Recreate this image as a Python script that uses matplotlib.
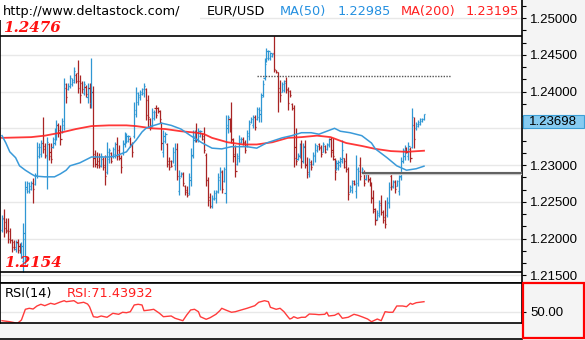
import matplotlib
matplotlib.use("Agg")
import matplotlib.pyplot as plt
from matplotlib.collections import LineCollection
from matplotlib.patches import Rectangle
from matplotlib.lines import Line2D
from matplotlib.ticker import MultipleLocator, FixedLocator, FuncFormatter, FormatStrFormatter

# EUR/USD 4h bars (open, high, low, close)
opens = [
    1.2212, 1.2228, 1.2222, 1.2212, 1.2210, 1.2198, 1.2196, 1.2186, 1.2196, 1.2190,
    1.2180, 1.2170, 1.2200, 1.2268, 1.2265, 1.2268, 1.2276, 1.2274, 1.2286, 1.2312,
    1.2315, 1.2330, 1.2326, 1.2312, 1.2328, 1.2318, 1.2325, 1.2330, 1.2340, 1.2355,
    1.2348, 1.2346, 1.2355, 1.2405, 1.2403, 1.2407, 1.2410, 1.2413, 1.2423, 1.2425,
    1.2415, 1.2412, 1.2398, 1.2406, 1.2392, 1.2405, 1.2385, 1.2400, 1.2315, 1.2312,
    1.2305, 1.2300, 1.2308, 1.2300, 1.2290, 1.2308, 1.2316, 1.2312, 1.2315, 1.2328,
    1.2320, 1.2310, 1.2316, 1.2328, 1.2333, 1.2333, 1.2336, 1.2328, 1.2340, 1.2370,
    1.2386, 1.2392, 1.2397, 1.2398, 1.2403, 1.2388, 1.2362, 1.2355, 1.2364, 1.2378,
    1.2378, 1.2373, 1.2357, 1.2318, 1.2333, 1.2328, 1.2306, 1.2305, 1.2305, 1.2300,
    1.2322, 1.2265, 1.2285, 1.2288, 1.2271, 1.2266, 1.2262, 1.2280, 1.2314, 1.2334,
    1.2345, 1.2334, 1.2340, 1.2343, 1.2340, 1.2314, 1.2280, 1.2256, 1.2244, 1.2254,
    1.2255, 1.2265, 1.2280, 1.2291, 1.2279, 1.2262, 1.2350, 1.2362, 1.2355, 1.2334,
    1.2315, 1.2302, 1.2310, 1.2331, 1.2336, 1.2331, 1.2327, 1.2340, 1.2358, 1.2355,
    1.2366, 1.2362, 1.2365, 1.2370, 1.2395, 1.2418, 1.2442, 1.2446, 1.2445, 1.2448,
    1.2452, 1.2429, 1.2426, 1.2405, 1.2400, 1.2402, 1.2415, 1.2402, 1.2401, 1.2383,
    1.2378, 1.2325, 1.2308, 1.2312, 1.2328, 1.2305, 1.2326, 1.2302, 1.2288, 1.2304,
    1.2301, 1.2312, 1.2320, 1.2328, 1.2324, 1.2318, 1.2326, 1.2322, 1.2327, 1.2336,
    1.2320, 1.2308, 1.2294, 1.2296, 1.2300, 1.2306, 1.2309, 1.2305, 1.2294, 1.2264,
    1.2266, 1.2278, 1.2265, 1.2275, 1.2300, 1.2290, 1.2290, 1.2281, 1.2288, 1.2281,
    1.2275, 1.2256, 1.2238, 1.2227, 1.2232, 1.2248, 1.2236, 1.2230, 1.2232, 1.2248,
    1.2285, 1.2270, 1.2277, 1.2272, 1.2265, 1.2285, 1.2306, 1.2312, 1.2323, 1.2312,
    1.2322, 1.2325, 1.2355, 1.2350, 1.2353, 1.2356, 1.2360, 1.2362,
]
highs = [
    1.2232, 1.2240, 1.2228, 1.2228, 1.2214, 1.2200, 1.2198, 1.2198, 1.2200, 1.2194,
    1.2195, 1.2221, 1.2279, 1.2279, 1.2277, 1.2279, 1.2282, 1.2289, 1.2331, 1.2330,
    1.2334, 1.2366, 1.2330, 1.2338, 1.2330, 1.2330, 1.2338, 1.2350, 1.2361, 1.2357,
    1.2354, 1.2364, 1.2418, 1.2412, 1.2411, 1.2422, 1.2419, 1.2433, 1.2425, 1.2443,
    1.2422, 1.2415, 1.2415, 1.2409, 1.2411, 1.2412, 1.2445, 1.2407, 1.2321, 1.2318,
    1.2317, 1.2317, 1.2311, 1.2314, 1.2331, 1.2323, 1.2318, 1.2325, 1.2331, 1.2338,
    1.2327, 1.2314, 1.2334, 1.2345, 1.2344, 1.2341, 1.2338, 1.2331, 1.2386, 1.2406,
    1.2399, 1.2402, 1.2405, 1.2412, 1.2405, 1.2395, 1.2364, 1.2378, 1.2375, 1.2382,
    1.2379, 1.2375, 1.2359, 1.2348, 1.2345, 1.2330, 1.2311, 1.2307, 1.2325, 1.2330,
    1.2330, 1.2293, 1.2291, 1.2291, 1.2273, 1.2271, 1.2289, 1.2323, 1.2348, 1.2348,
    1.2357, 1.2350, 1.2348, 1.2344, 1.2352, 1.2316, 1.2284, 1.2262, 1.2259, 1.2266,
    1.2266, 1.2289, 1.2297, 1.2293, 1.2297, 1.2368, 1.2368, 1.2364, 1.2386, 1.2337,
    1.2327, 1.2316, 1.2341, 1.2338, 1.2338, 1.2334, 1.2348, 1.2361, 1.2365, 1.2368,
    1.2368, 1.2379, 1.2379, 1.2398, 1.2416, 1.2446, 1.2459, 1.2456, 1.2454, 1.2452,
    1.2476, 1.2429, 1.2427, 1.2416, 1.2413, 1.2416, 1.2420, 1.2406, 1.2402, 1.2384,
    1.2382, 1.2350, 1.2316, 1.2330, 1.2334, 1.2330, 1.2334, 1.2311, 1.2310, 1.2307,
    1.2318, 1.2330, 1.2327, 1.2330, 1.2327, 1.2331, 1.2327, 1.2330, 1.2337, 1.2338,
    1.2337, 1.2310, 1.2307, 1.2307, 1.2311, 1.2334, 1.2310, 1.2316, 1.2297, 1.2273,
    1.2280, 1.2280, 1.2314, 1.2297, 1.2311, 1.2297, 1.2293, 1.2289, 1.2289, 1.2284,
    1.2277, 1.2266, 1.2242, 1.2239, 1.2252, 1.2259, 1.2239, 1.2252, 1.2256, 1.2277,
    1.2289, 1.2280, 1.2280, 1.2280, 1.2287, 1.2311, 1.2323, 1.2327, 1.2325, 1.2331,
    1.2325, 1.2378, 1.2365, 1.2359, 1.2361, 1.2364, 1.2364, 1.2370,
]
lows = [
    1.2209, 1.2202, 1.2207, 1.2194, 1.2194, 1.2182, 1.2184, 1.2182, 1.2180, 1.2180,
    1.2174, 1.2154, 1.2166, 1.2262, 1.2262, 1.2266, 1.2249, 1.2273, 1.2283, 1.2309,
    1.2311, 1.2317, 1.2309, 1.2268, 1.2307, 1.2303, 1.2323, 1.2327, 1.2334, 1.2338,
    1.2327, 1.2344, 1.2348, 1.2385, 1.2402, 1.2405, 1.2408, 1.2411, 1.2411, 1.2398,
    1.2384, 1.2398, 1.2395, 1.2392, 1.2384, 1.2377, 1.2378, 1.2297, 1.2297, 1.2296,
    1.2296, 1.2297, 1.2293, 1.2273, 1.2288, 1.2303, 1.2303, 1.2310, 1.2310, 1.2307,
    1.2307, 1.2289, 1.2314, 1.2325, 1.2330, 1.2331, 1.2325, 1.2311, 1.2337, 1.2365,
    1.2382, 1.2389, 1.2395, 1.2393, 1.2361, 1.2352, 1.2348, 1.2352, 1.2361, 1.2364,
    1.2371, 1.2357, 1.2321, 1.2311, 1.2330, 1.2297, 1.2293, 1.2297, 1.2303, 1.2293,
    1.2280, 1.2259, 1.2284, 1.2271, 1.2259, 1.2256, 1.2259, 1.2271, 1.2310, 1.2331,
    1.2331, 1.2331, 1.2338, 1.2334, 1.2316, 1.2271, 1.2245, 1.2241, 1.2241, 1.2252,
    1.2249, 1.2262, 1.2266, 1.2262, 1.2277, 1.2249, 1.2344, 1.2345, 1.2330, 1.2304,
    1.2284, 1.2300, 1.2304, 1.2330, 1.2327, 1.2316, 1.2325, 1.2334, 1.2357, 1.2350,
    1.2348, 1.2361, 1.2359, 1.2359, 1.2393, 1.2416, 1.2440, 1.2443, 1.2443, 1.2447,
    1.2427, 1.2425, 1.2372, 1.2386, 1.2399, 1.2399, 1.2398, 1.2375, 1.2393, 1.2375,
    1.2297, 1.2300, 1.2307, 1.2310, 1.2296, 1.2303, 1.2296, 1.2282, 1.2284, 1.2293,
    1.2300, 1.2304, 1.2318, 1.2321, 1.2311, 1.2318, 1.2316, 1.2321, 1.2325, 1.2311,
    1.2307, 1.2280, 1.2293, 1.2293, 1.2297, 1.2303, 1.2296, 1.2291, 1.2252, 1.2263,
    1.2262, 1.2273, 1.2255, 1.2271, 1.2280, 1.2289, 1.2271, 1.2280, 1.2277, 1.2271,
    1.2248, 1.2235, 1.2218, 1.2225, 1.2229, 1.2232, 1.2221, 1.2214, 1.2229, 1.2242,
    1.2266, 1.2269, 1.2262, 1.2271, 1.2259, 1.2280, 1.2303, 1.2307, 1.2316, 1.2307,
    1.2304, 1.2323, 1.2323, 1.2348, 1.2352, 1.2355, 1.2359, 1.2361,
]
closes = [
    1.2226, 1.2214, 1.2210, 1.2200, 1.2198, 1.2188, 1.2188, 1.2194, 1.2184, 1.2182,
    1.2190, 1.2208, 1.2270, 1.2276, 1.2272, 1.2276, 1.2268, 1.2286, 1.2325, 1.2325,
    1.2330, 1.2322, 1.2314, 1.2332, 1.2312, 1.2308, 1.2335, 1.2345, 1.2355, 1.2343,
    1.2335, 1.2360, 1.2410, 1.2392, 1.2408, 1.2418, 1.2416, 1.2428, 1.2415, 1.2405,
    1.2395, 1.2403, 1.2410, 1.2396, 1.2405, 1.2390, 1.2400, 1.2310, 1.2302, 1.2300,
    1.2299, 1.2312, 1.2298, 1.2285, 1.2318, 1.2320, 1.2306, 1.2322, 1.2328, 1.2312,
    1.2310, 1.2298, 1.2330, 1.2340, 1.2340, 1.2339, 1.2328, 1.2318, 1.2375, 1.2398,
    1.2395, 1.2400, 1.2403, 1.2408, 1.2368, 1.2365, 1.2352, 1.2372, 1.2372, 1.2368,
    1.2373, 1.2362, 1.2330, 1.2340, 1.2342, 1.2302, 1.2297, 1.2299, 1.2318, 1.2322,
    1.2285, 1.2282, 1.2289, 1.2276, 1.2263, 1.2259, 1.2284, 1.2312, 1.2340, 1.2344,
    1.2336, 1.2346, 1.2346, 1.2336, 1.2320, 1.2280, 1.2252, 1.2245, 1.2255, 1.2262,
    1.2263, 1.2284, 1.2292, 1.2268, 1.2294, 1.2355, 1.2365, 1.2350, 1.2335, 1.2312,
    1.2292, 1.2312, 1.2335, 1.2336, 1.2330, 1.2320, 1.2343, 1.2356, 1.2363, 1.2365,
    1.2352, 1.2376, 1.2375, 1.2393, 1.2410, 1.2438, 1.2455, 1.2455, 1.2452, 1.2451,
    1.2430, 1.2426, 1.2400, 1.2395, 1.2410, 1.2412, 1.2404, 1.2385, 1.2395, 1.2377,
    1.2310, 1.2305, 1.2314, 1.2326, 1.2305, 1.2325, 1.2300, 1.2290, 1.2302, 1.2297,
    1.2314, 1.2327, 1.2326, 1.2323, 1.2315, 1.2328, 1.2318, 1.2328, 1.2335, 1.2318,
    1.2312, 1.2290, 1.2303, 1.2304, 1.2308, 1.2320, 1.2298, 1.2295, 1.2260, 1.2270,
    1.2275, 1.2274, 1.2295, 1.2292, 1.2285, 1.2295, 1.2276, 1.2288, 1.2280, 1.2274,
    1.2255, 1.2240, 1.2225, 1.2235, 1.2246, 1.2236, 1.2225, 1.2220, 1.2250, 1.2270,
    1.2272, 1.2278, 1.2268, 1.2278, 1.2284, 1.2305, 1.2320, 1.2322, 1.2318, 1.2326,
    1.2310, 1.2365, 1.2335, 1.2356, 1.2359, 1.2362, 1.2363, 1.23698,
]

# moving averages (bar index, value)
ma50_idx = [0, 2, 4, 7, 9, 12, 15, 17, 22, 27, 30, 33, 35, 40, 46, 51, 55, 58, 64, 66,
            69, 72, 74, 77, 82, 87, 92, 97, 103, 108, 113, 118, 126, 131, 136, 144, 149,
            154, 159, 163, 167, 171, 174, 179, 185, 190, 192, 198, 203, 208, 213, 217]
ma50_val = [1.2340, 1.2330, 1.2318, 1.2310, 1.2299, 1.2293, 1.2288, 1.2285, 1.2284, 1.2284,
            1.2288, 1.2293, 1.2299, 1.2303, 1.2311, 1.2311, 1.2311, 1.2312, 1.2318, 1.2325,
            1.2334, 1.2345, 1.2350, 1.2353, 1.2357, 1.2354, 1.2349, 1.2340, 1.2330, 1.2323,
            1.2322, 1.2325, 1.2325, 1.2323, 1.2330, 1.2337, 1.2340, 1.2344, 1.2344, 1.2342,
            1.2346, 1.2350, 1.2346, 1.2344, 1.2340, 1.2330, 1.2322, 1.2310, 1.2299, 1.2293,
            1.2295, 1.22985]
ma200_idx = [0, 15, 22, 30, 38, 46, 55, 64, 69, 77, 84, 92, 100, 104, 108, 116, 124, 131,
             139, 147, 154, 162, 169, 177, 185, 192, 200, 208, 217]
ma200_val = [1.2337, 1.2338, 1.2340, 1.2344, 1.2349, 1.2353, 1.2354, 1.2354, 1.2353, 1.2350,
             1.2349, 1.2346, 1.2344, 1.2342, 1.2337, 1.2331, 1.2328, 1.2328, 1.2331, 1.2337,
             1.2338, 1.2340, 1.2338, 1.2330, 1.2326, 1.2322, 1.2319, 1.2318, 1.23195]

# RSI(14)
rsi_idx = [0, 4, 8, 10, 12, 14, 16, 18, 20, 22, 25, 27, 30, 32, 33, 37, 39, 42, 44, 45,
           47, 49, 51, 54, 57, 60, 62, 64, 66, 68, 70, 72, 73, 76, 78, 81, 83, 87, 89, 93,
           95, 97, 99, 101, 102, 105, 107, 110, 112, 113, 115, 118, 120, 123, 126, 130, 132,
           135, 137, 138, 141, 143, 145, 147, 148, 149, 150, 152, 154, 156, 158, 161, 163,
           166, 167, 168, 171, 173, 175, 178, 181, 183, 185, 188, 190, 193, 195, 197, 199,
           201, 203, 206, 208, 210, 211, 213, 217]
rsi_val = [31.9, 29.8, 26.5, 33.4, 55.6, 57.7, 56.2, 62.5, 66.0, 63.1, 68.1, 66.0, 70.8,
           73.5, 71.4, 73.5, 68.1, 70.2, 66.6, 61.0, 40.2, 39.0, 41.7, 39.0, 47.3, 45.2,
           49.4, 48.5, 50.6, 64.6, 66.0, 64.6, 52.7, 54.2, 55.6, 47.3, 40.2, 41.7, 36.9,
           31.9, 43.8, 54.2, 55.6, 50.6, 40.2, 34.8, 38.1, 45.2, 52.7, 57.7, 54.2, 49.4,
           50.6, 54.2, 57.7, 63.1, 70.2, 73.5, 71.4, 59.8, 55.6, 57.7, 50.6, 40.2, 35.4,
           36.9, 40.2, 36.9, 39.0, 39.0, 45.8, 45.2, 44.4, 45.2, 49.4, 41.7, 43.1, 47.3,
           36.9, 39.0, 45.2, 43.1, 40.2, 35.4, 29.8, 35.4, 31.9, 50.6, 49.4, 49.4, 62.5,
           62.5, 61.0, 68.1, 66.0, 69.3, 71.43932]

high_mark = 1.2476
low_mark = 1.2154
resist_level = 1.2421
resist_span = (131, 231)
support_level = 1.2289
support_start = 185
last_price = 1.23698
ma50_last = 1.22985
ma200_last = 1.23195
rsi_last = 71.43932

UP = '#2f97d3'
DOWN = '#a82424'
MA50_C = '#3a9ad9'
MA200_C = '#ff2222'
RSI_C = '#ff3b3b'

plt.rcParams['font.family'] = ['DejaVu Sans']

W, H = 585, 340
fig = plt.figure(figsize=(W / 100, H / 100), dpi=100, facecolor='#f4f4f4')


def fx(px):
    return px / W


def fy(py):
    return 1 - py / H


ax = fig.add_axes([0, fy(283), fx(522), 283 / H])
rax = fig.add_axes([0, fy(323), fx(522), 40 / H])
xmin, xmax = -1.03, 267.4

# OHLC bars
segs, cols = [], []
for i, (o, h, l, c) in enumerate(zip(opens, highs, lows, closes)):
    col = UP if c >= o else DOWN
    segs += [[(i, l), (i, h)], [(i - 0.6, o), (i, o)], [(i, c), (i + 0.6, c)]]
    cols += [col] * 3
ax.add_collection(LineCollection(segs, colors=cols, linewidths=0.9, zorder=3))

ax.plot(ma200_idx, ma200_val, color=MA200_C, lw=1.3, alpha=0.9, zorder=4)
ax.plot(ma50_idx, ma50_val, color=MA50_C, lw=1.1, zorder=4)

ax.axhline(high_mark, color='black', lw=1.2, zorder=5)
ax.axhline(low_mark, color='black', lw=1.2, zorder=5)
ax.hlines(resist_level, *resist_span, colors='#555555', linestyles=(0, (1, 1)), lw=1, zorder=5)
ax.hlines(support_level, support_start, xmax, colors='#c8c8c8', lw=2.4, zorder=5)
ax.hlines(support_level, support_start, xmax, colors='#444444', lw=1.1, zorder=5)

ax.set_xlim(xmin, xmax)
ax.set_ylim(1.21396, 1.25245)
ax.set_xticks([])
ax.yaxis.tick_right()
ax.yaxis.set_major_locator(MultipleLocator(0.005))
ax.yaxis.set_minor_locator(MultipleLocator(0.005 / 3))
# the 1.23500 label sits under the last-price tag, so it is left blank
ax.yaxis.set_major_formatter(FuncFormatter(
    lambda v, pos: '' if abs(v - 1.235) < 1e-6 else f'{v:.5f}'))
ax.tick_params(axis='y', which='both', direction='out', length=3, width=0.8,
               labelsize=9.5, pad=3, labelfontfamily='Liberation Sans')
ax.grid(axis='y', which='major', color='#e8e8e8', lw=1, zorder=0)
ax.spines['top'].set_visible(False)
for s in ('left', 'right', 'bottom'):
    ax.spines[s].set_color('black')
    ax.spines[s].set_linewidth(1.2)

# RSI panel
rax.plot(rsi_idx, rsi_val, color=RSI_C, lw=1)
rax.set_xlim(xmin, xmax)
rax.set_ylim(27.1, 110.3)
rax.set_xticks([])
rax.yaxis.tick_right()
rax.yaxis.set_major_locator(FixedLocator([50]))
rax.yaxis.set_major_formatter(FormatStrFormatter('%.2f'))
rax.tick_params(axis='y', direction='out', length=3, width=0.8, labelsize=9.5, pad=3,
                labelfontfamily='Liberation Sans')
rax.grid(axis='y', color='#e8e8e8', lw=1)
for s in rax.spines.values():
    s.set_color('black')
    s.set_linewidth(1.2)

fig.add_artist(Line2D([0, fx(522)], [fy(338.5)] * 2, color='black', lw=1.2))

# header texts
fig.add_artist(Rectangle((0, fy(20)), fx(200), 20 / H, facecolor='white',
                         edgecolor='none', zorder=2))
hdr = dict(fontsize=9.3, va='baseline', ha='left', zorder=3)
fig.text(fx(3), fy(15), 'http://www.deltastock.com/', color='black', **hdr)
fig.text(fx(207), fy(15), 'EUR/USD', color='black', **hdr)
fig.text(fx(280), fy(15), 'MA(50)', color='#2590e0', **hdr)
fig.text(fx(338), fy(15), f'{ma50_last:.5f}', color='#2590e0', **hdr)
fig.text(fx(401), fy(15), 'MA(200)', color='#ff2020', **hdr)
fig.text(fx(466), fy(15), f'{ma200_last:.5f}', color='#ff2020', **hdr)

mark = dict(fontsize=10.9, family='DejaVu Serif', weight='bold', style='italic',
            color='#ff1010', va='baseline', ha='left', zorder=3)
fig.text(fx(3), fy(31.5), f'{high_mark:.4f}', **mark)
fig.text(fx(4), fy(267), f'{low_mark:.4f}', **mark)

fig.text(fx(5), fy(297), 'RSI(14)', color='black', **hdr)
fig.text(fx(67), fy(297), f'RSI:{rsi_last:.5f}', color='#ff2020', **hdr)

# last price tag and RSI scale box
fig.add_artist(Rectangle((fx(522.5), fy(128)), fx(61.5), 13 / H, facecolor='#86cbf1',
                         edgecolor='#3d9fd6', lw=0.8, zorder=4))
fig.text(fx(529), fy(121.5), f'{last_price:.5f}', fontsize=9.5, family='Liberation Sans',
         va='center', ha='left', zorder=5)
fig.add_artist(Rectangle((fx(523), fy(338)), fx(61), 55 / H, facecolor='none',
                         edgecolor='#ff0000', lw=1.6, zorder=4))

fig.savefig('out.png', dpi=100, facecolor=fig.get_facecolor())
